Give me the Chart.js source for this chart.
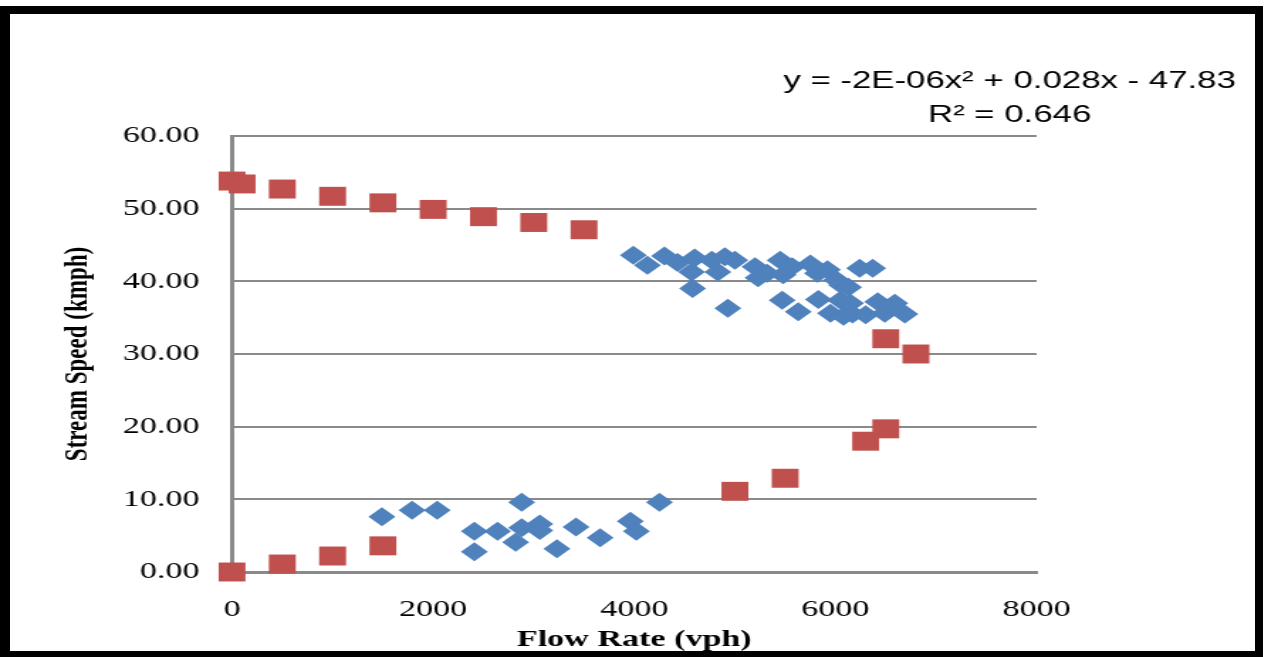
<!DOCTYPE html>
<html>
<head>
<meta charset="utf-8">
<script src="https://cdn.jsdelivr.net/npm/chart.js@4"></script>
<style>
  html, body { margin: 0; padding: 0; background: #fff; }
  #page { position: relative; width: 1264px; height: 657px; overflow: hidden; }
  /* the source picture is a stretched screenshot, so the chart is drawn narrow and widened */
  #stretch { position: absolute; left: 0; top: 0; width: 890px; height: 657px;
             transform: scaleX(1.42); transform-origin: 0 0; }
  #frame { position: absolute; left: 0; top: 6px; width: 1263px; height: 651px;
           box-sizing: border-box; border: solid #000; border-width: 8px 8px 6px 10px;
           pointer-events: none; }
</style>
</head>
<body>
<div id="page">
  <div id="stretch"><canvas id="speedFlow"></canvas></div>
  <div id="frame"></div>
</div>
<script>
// Observed points (blue diamonds)
const obsFlow = [
  1490, 1790, 2040, 2410, 2410, 2640, 2880, 2820, 2880, 3060, 3060, 3230, 3420, 3660, 3960, 4020, 4250,
  3990, 4130, 4300, 4430, 4600, 4570, 4580, 4770, 4830, 4900, 4930, 5000, 5200, 5230, 5320, 5450,
  5470, 5480, 5570, 5630, 5750, 5820, 5830, 5920, 5950, 6010, 6050, 6080, 6060, 6130, 6150, 6170,
  6240, 6370, 6300, 6420, 6490, 6590, 6690
];
const obsSpeed = [
  7.6, 8.5, 8.5, 5.6, 2.8, 5.6, 9.6, 4.1, 6.1, 6.6, 5.7, 3.2, 6.2, 4.7, 7.0, 5.6, 9.6,
  43.6, 42.2, 43.5, 42.6, 43.2, 41.3, 39.0, 42.9, 41.3, 43.4, 36.3, 42.9, 42.0, 40.5, 41.1, 42.9,
  37.4, 40.9, 42.0, 35.8, 42.4, 41.1, 37.5, 41.6, 35.6, 40.2, 37.4, 35.2, 39.5, 39.2, 37.0, 35.5,
  41.8, 41.8, 35.4, 37.2, 35.6, 37.0, 35.5
];

// Model points (red squares)
const modelFlow = [0, 100, 500, 1000, 1500, 2000, 2500, 3000, 3500, 6500, 6800,
                   0, 500, 1000, 1500, 5000, 5500, 6300, 6500];
const modelSpeed = [53.8, 53.4, 52.7, 51.7, 50.8, 49.9, 48.9, 48.1, 47.1, 32.1, 30.0,
                    0.0, 1.1, 2.2, 3.6, 11.1, 12.9, 18.0, 19.7];

// Axis settings
const xTicks = [0, 2000, 4000, 6000, 8000];
const yMin = 0, yMax = 60, yStep = 10;
const trendLines = ['y = -2E-06x\u00B2 + 0.028x - 47.83', 'R\u00B2 = 0.646'];

const toPoints = (xs, ys) => xs.map((x, i) => ({ x: x, y: ys[i] }));

// Trendline label in the top right corner
const equationLabel = {
  id: 'equationLabel',
  afterDraw(chart) {
    const ctx = chart.ctx;
    const cx = chart.chartArea.right - 19;
    ctx.save();
    ctx.font = '24.5px "Liberation Sans", Arial, sans-serif';
    ctx.fillStyle = '#000';
    ctx.textAlign = 'center';
    ctx.textBaseline = 'middle';
    ctx.fillText(trendLines[0], cx, 81);
    ctx.fillText(trendLines[1], cx, 115);
    ctx.restore();
  }
};

const gray = '#8a8a8a';
const serif = '"Liberation Serif", "Times New Roman", serif';

const ctx = document.getElementById('speedFlow').getContext('2d');
new Chart(ctx, {
  type: 'scatter',
  data: {
    datasets: [
      {
        label: 'Observed',
        data: toPoints(obsFlow, obsSpeed),
        pointStyle: 'rectRot',
        pointRadius: 9.5,
        pointHoverRadius: 9.5,
        backgroundColor: '#4F81BD',
        borderColor: '#4F81BD',
        borderWidth: 0,
        clip: false
      },
      {
        label: 'Model',
        data: toPoints(modelFlow, modelSpeed),
        pointStyle: 'rect',
        pointRadius: 13.4,
        pointHoverRadius: 13.4,
        backgroundColor: '#C0504D',
        borderColor: '#C0504D',
        borderWidth: 0,
        clip: false
      }
    ]
  },
  options: {
    responsive: true,
    maintainAspectRatio: false,
    animation: false,
    layout: { padding: { left: 41, right: 160, top: 136, bottom: 0 } },
    plugins: {
      legend: { display: false },
      tooltip: { enabled: false }
    },
    scales: {
      x: {
        type: 'linear',
        min: xTicks[0],
        max: xTicks[xTicks.length - 1],
        afterBuildTicks: (scale) => { scale.ticks = xTicks.map(v => ({ value: v })); },
        afterFit: (scale) => { scale.height = 85; },
        grid: { display: false, drawTicks: false },
        border: { display: true, color: gray, width: 3 },
        ticks: {
          padding: 23,
          color: '#000',
          font: { family: serif, size: 24 },
          maxRotation: 0,
          callback: (v) => String(v)
        },
        title: {
          display: true,
          text: 'Flow Rate (vph)',
          color: '#000',
          font: { family: serif, size: 24, weight: 'bold' },
          padding: { top: 0, bottom: 3 }
        }
      },
      y: {
        min: yMin,
        max: yMax,
        afterFit: (scale) => { scale.width = 122.4; },
        grid: { color: gray, lineWidth: 2, drawTicks: false },
        border: { display: true, color: gray, width: 3 },
        ticks: {
          stepSize: yStep,
          padding: 23,
          color: '#000',
          font: { family: serif, size: 24 },
          callback: (v) => v.toFixed(2)
        },
        title: {
          display: true,
          text: 'Stream Speed (kmph)',
          color: '#000',
          font: { family: serif, size: 23, weight: 'bold' },
          padding: { top: 0, bottom: 0 }
        }
      }
    }
  },
  plugins: [equationLabel]
});
</script>
</body>
</html>
